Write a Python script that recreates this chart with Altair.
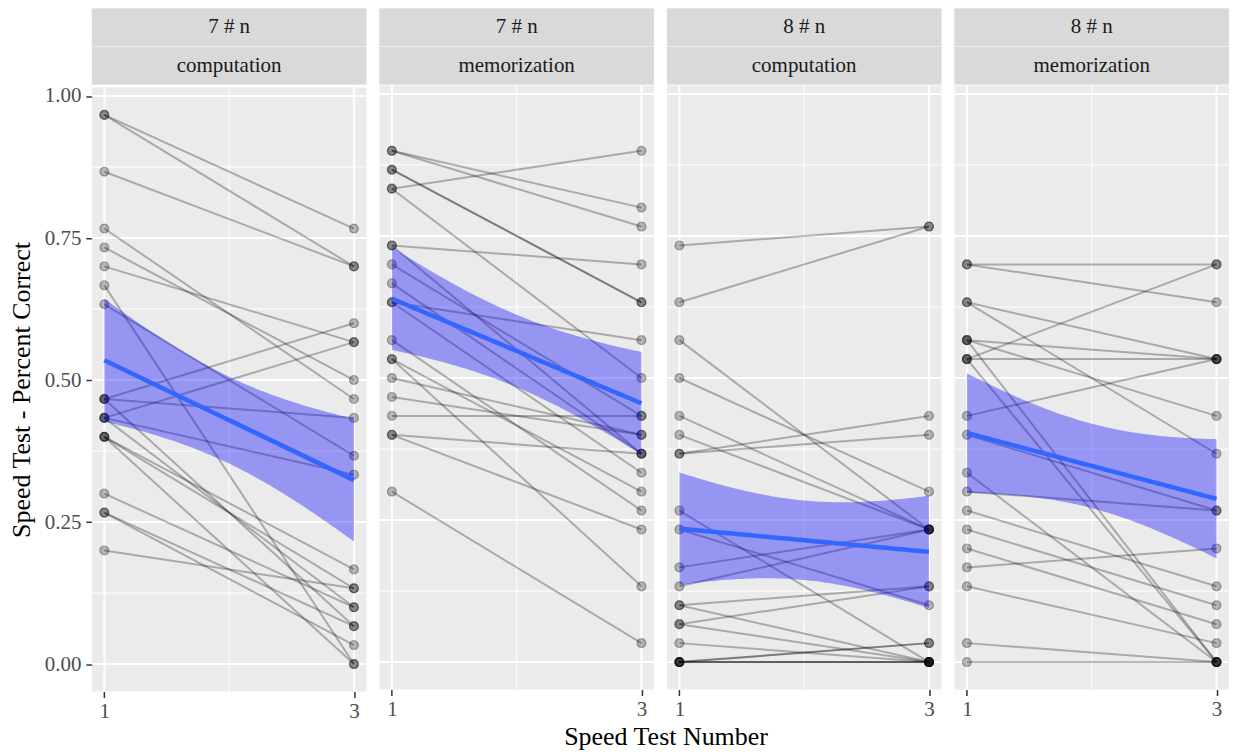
import altair as alt
import numpy as np
import pandas as pd

# ---------------- data (items correct out of 30) ----------------
N_ITEMS = 30
TIMES = [1, 3]
GROUP_LABELS = ["7 # n", "7 # n", "8 # n", "8 # n"]
TASK_LABELS = ["computation", "memorization", "computation", "memorization"]

# panel 1: 7 # n / computation
P1_T1 = [29, 29, 26, 23, 22, 21, 20, 19, 14, 14, 14, 13, 13, 13, 12, 12, 12, 9, 8, 8, 6]
P1_T3 = [23, 21, 21, 14, 15, 17, 0, 11, 18, 13, 2, 17, 10, 3, 5, 4, 0, 3, 2, 1, 4]
# panel 2: 7 # n / memorization
P2_T1 = [27, 27, 26, 26, 25, 25, 22, 22, 21, 20, 19, 19, 17, 16, 16, 15, 14, 13, 12, 12, 9]
P2_T3 = [24, 23, 19, 19, 27, 15, 21, 11, 13, 11, 17, 10, 8, 4, 9, 12, 12, 13, 11, 7, 1]
# panel 3: 8 # n / computation
P3_T1 = [22, 19, 17, 15, 13, 12, 11, 11, 8, 7, 5, 4, 3, 3, 2, 2, 1, 0, 0, 0, 0, 0]
P3_T3 = [23, 23, 7, 9, 7, 7, 13, 12, 0, 3, 7, 7, 4, 0, 4, 0, 0, 1, 1, 0, 0, 0]
# panel 4: 8 # n / memorization
P4_T1 = [21, 21, 19, 19, 17, 17, 17, 16, 16, 16, 13, 12, 10, 9, 8, 7, 6, 5, 4, 1, 0]
P4_T3 = [21, 19, 16, 11, 16, 13, 0, 16, 21, 0, 16, 8, 0, 8, 4, 3, 2, 6, 1, 0, 0]

PANELS = [(P1_T1, P1_T3), (P2_T1, P2_T3), (P3_T1, P3_T3), (P4_T1, P4_T3)]

X_BREAKS = [1, 3]
X_MINOR = [2]
Y_BREAKS = [0.0, 0.25, 0.5, 0.75, 1.0]
Y_MINOR = [0.125, 0.375, 0.625, 0.875]

# ---------------- style ----------------
FONT = "Liberation Serif"
PW, PH, SH = 275, 605, 76
GAP = 11  # + 2px of gridline stroke overhang = 13px visual gap
X_DOM = [0.9, 3.1]
Y_DOM = [-0.0483, 1.0150]


def t975(df):
    # Cornish-Fisher expansion of the 97.5% Student-t quantile
    z = 1.959964
    return (z + (z ** 3 + z) / (4 * df)
            + (5 * z ** 5 + 16 * z ** 3 + 3 * z) / (96 * df ** 2))


def fit_band(t1, t3):
    x = np.array([TIMES[0]] * len(t1) + [TIMES[1]] * len(t3), dtype=float)
    y = np.array(list(t1) + list(t3), dtype=float) / N_ITEMS
    b1, b0 = np.polyfit(x, y, 1)
    resid = y - (b0 + b1 * x)
    n = len(y)
    s = np.sqrt((resid ** 2).sum() / (n - 2))
    sxx = ((x - x.mean()) ** 2).sum()
    xg = np.linspace(TIMES[0], TIMES[1], 81)
    se = s * np.sqrt(1.0 / n + (xg - x.mean()) ** 2 / sxx)
    fit = b0 + b1 * xg
    tc = t975(n - 2)
    return pd.DataFrame({"time": xg, "fit": fit, "lo": fit - tc * se, "hi": fit + tc * se})


def make_panel(i, t1, t3):
    n = len(t1)
    df = pd.DataFrame({
        "id": list(range(n)) * 2,
        "time": [TIMES[0]] * n + [TIMES[1]] * n,
        "score": np.array(list(t1) + list(t3), dtype=float) / N_ITEMS,
    })
    band = fit_band(t1, t3)
    first = i == 0

    xscale = alt.Scale(domain=X_DOM, nice=False, zero=False)
    yscale = alt.Scale(domain=Y_DOM, nice=False, zero=False)
    xaxis = alt.Axis(values=X_BREAKS, format="d", title=None, grid=False, domain=False,
                     labelFont=FONT, labelFontSize=21, labelColor="#4D4D4D",
                     tickColor="#333333", tickSize=6, tickWidth=1.5, labelPadding=3)
    if first:
        yaxis = alt.Axis(values=Y_BREAKS, format=".2f", title="Speed Test - Percent Correct",
                         grid=False, domain=False, labelFont=FONT, labelFontSize=21,
                         labelColor="#4D4D4D", tickColor="#333333", tickSize=6,
                         tickWidth=1.5, labelPadding=5, titleFont=FONT, titleFontSize=26,
                         titleFontWeight="normal", titleColor="black", titlePadding=10)
    else:
        yaxis = None

    def X(f):
        return alt.X(f, scale=xscale, axis=xaxis)

    def Y(f):
        return alt.Y(f, scale=yscale, axis=yaxis)

    yminor = alt.Chart(pd.DataFrame({"ym": Y_MINOR})).mark_rule(
        color="white", strokeWidth=1).encode(y=Y("ym:Q"))
    ymajor = alt.Chart(pd.DataFrame({"yM": Y_BREAKS})).mark_rule(
        color="white", strokeWidth=2).encode(y=Y("yM:Q"))
    xminor = alt.Chart(pd.DataFrame({"xm": X_MINOR})).mark_rule(
        color="white", strokeWidth=1).encode(x=X("xm:Q"))
    xmajor = alt.Chart(pd.DataFrame({"xM": X_BREAKS})).mark_rule(
        color="white", strokeWidth=2).encode(x=X("xM:Q"))
    lines = alt.Chart(df).mark_line(color="black", strokeOpacity=0.28, strokeWidth=2).encode(
        x=X("time:Q"), y=Y("score:Q"), detail="id:N")
    pts = alt.Chart(df).mark_point(filled=False, shape="circle", size=80, fill="black",
                                   fillOpacity=0.26, stroke="black", strokeOpacity=0.3,
                                   strokeWidth=1.2).encode(
        x=X("time:Q"), y=Y("score:Q"))
    area = alt.Chart(band).mark_area(color="#0000FF", opacity=0.36).encode(
        x=X("time:Q"), y=Y("lo:Q"), y2="hi:Q")
    reg = alt.Chart(band).mark_line(color="#3366FF", strokeWidth=4.5).encode(
        x=X("time:Q"), y=Y("fit:Q"))
    plot = alt.layer(yminor, xminor, ymajor, xmajor, lines, pts, area, reg).properties(
        width=PW, height=PH)

    sdf = pd.DataFrame({"row": [0, 1], "label": [GROUP_LABELS[i], TASK_LABELS[i]]})
    rscale = alt.Scale(domain=[0, 1], paddingInner=0.03, paddingOuter=0)
    srect = alt.Chart(sdf).mark_rect(color="#D9D9D9").encode(
        y=alt.Y("row:O", scale=rscale, axis=None), x=alt.value(0), x2=alt.value(PW))
    stext = alt.Chart(sdf).mark_text(font=FONT, fontSize=21, color="#1A1A1A",
                                     baseline="middle", align="center").encode(
        y=alt.Y("row:O", scale=rscale, axis=None), x=alt.value(PW / 2), text="label:N")
    strip = alt.layer(srect, stext).properties(width=PW, height=SH)
    return alt.vconcat(strip, plot, spacing=0)


cols = [make_panel(i, t1, t3) for i, (t1, t3) in enumerate(PANELS)]

chart = alt.hconcat(*cols, spacing=GAP).properties(
    title=alt.TitleParams(text="Speed Test Number", orient="bottom", anchor="middle",
                          font=FONT, fontSize=26, fontWeight="normal", color="black",
                          offset=3, dx=47),
    padding={"left": 0, "top": 0, "right": 0, "bottom": 0},
).configure_view(stroke=None, fill="#EBEBEB").configure_concat(spacing=GAP)

chart.save("out.html", embed_options={"renderer": "svg", "actions": False})
